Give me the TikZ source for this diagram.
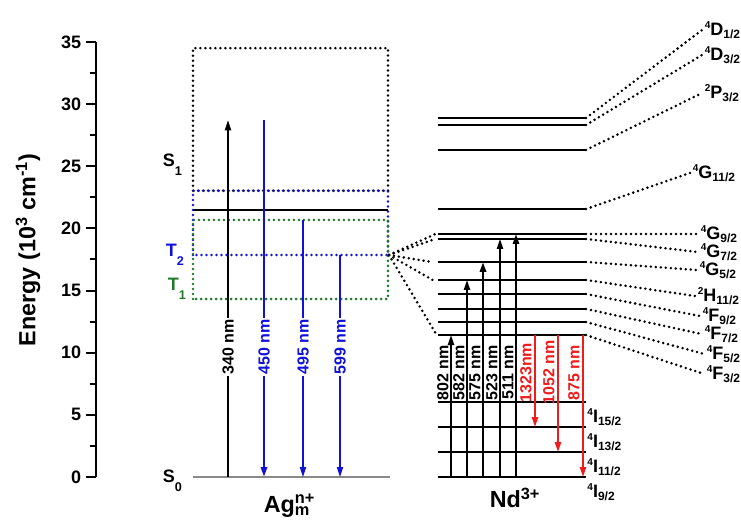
\documentclass[tikz,border=0pt]{standalone}
\usepackage{fontspec}
\setsansfont{Liberation Sans}
\usetikzlibrary{arrows.meta}
\definecolor{cblue}{HTML}{1010D8}
\definecolor{cgreen}{HTML}{23782A}
\definecolor{cred}{HTML}{EE1C1C}
\definecolor{cgrey}{HTML}{8A8A8A}
\newcommand\fsz[1]{\fontsize{#1}{#1}\selectfont\sffamily\bfseries}
\newcommand\tsup[1]{\raisebox{0.4em}{\fsz{7.5}#1}}
\newcommand\tsub[1]{\raisebox{-0.18em}{\fsz{9}#1}}
\newcommand\ssub[1]{\raisebox{-0.5em}{\fsz{9.5}#1}}
\tikzset{
  every picture/.style={font=\fsz{13.5}, line width=1.2pt},
  dots/.style={line width=2.1pt, line cap=round, dash pattern=on 0pt off 3.75pt},
  uparrow/.style={-{Triangle[length=7.5pt, width=4.6pt]}, line width=1.4pt},
  tickl/.style={anchor=east, font=\fsz{13.5}, inner sep=0pt},
  state/.style={anchor=base west, font=\fsz{13.5}, inner sep=0pt},
  wl/.style={rotate=90, font=\fsz{12}, inner sep=1.2pt},
  term/.style={anchor=base west, font=\fsz{13.5}, inner sep=0pt, xshift=1.5pt, yshift=-4pt},
  species/.style={anchor=base, font=\fsz{17.5}, inner sep=0pt},
}

\begin{document}
\begin{tikzpicture}[x=0.75pt, y=9.3225pt]
  \useasboundingbox (0,-3.54) rectangle (741,38.375);
  % energy axis
  \coordinate (ax0) at (96,0);
  \coordinate (ax35) at (96,35);
  \draw[line width=1.5pt] (ax0) -- (ax35);
  \foreach \v in {0,5,...,35} {
    \draw[line width=1.5pt] (86,\v) -- (96,\v);
    \node[tickl] (tick\v) at (82,\v) {\v};
  }
  \foreach \v in {2.5,7.5,...,32.5}
    \draw[line width=1.5pt] (89.5,\v) -- (96,\v);
  \node[rotate=90, font=\fsz{17.5}] (ylab) at (28,18.26) {Energy (10\textsuperscript{3} cm\textsuperscript{-1})};

  % Ag cluster states
  \draw[dots] (193,23.03) rectangle (388,34.5);
  \draw[dots, cblue] (193,17.86) rectangle (388,23.03);
  \draw[dots, cgreen] (193,14.32) rectangle (388,20.68);
  \coordinate (s1L) at (193,21.5);
  \coordinate (s1R) at (388,21.5);
  \draw[line width=1.6pt] (s1L) -- (s1R);
  \coordinate (s0L) at (193,0);
  \coordinate (s0R) at (390,0);
  \draw[cgrey, line width=1.5pt] (s0L) -- (s0R);
  \node[state] (S1) at (162,24.94) {S\ssub{1}};
  \node[state, text=cblue] (T2) at (165,17.7) {T\ssub{2}};
  \node[state, text=cgreen] (T1) at (167,15.0) {T\ssub{1}};
  \node[state] (S0) at (162,-0.48) {S\ssub{0}};

  \coordinate (ex0) at (228,0);
  \coordinate (ex1) at (228,28.7);
  \draw[uparrow, line width=1.1pt] (ex0) -- (ex1);
  \node[wl, fill=white] (wl340) at (228,10.46) {340 nm};
  \foreach \x/\top/\lab/\w in {264/28.7/450/1.9pt, 303/20.68/495/1.1pt, 340/17.86/599/1.1pt} {
    \coordinate (em\lab a) at (\x,\top);
    \coordinate (em\lab b) at (\x,0);
    \draw[uparrow, cblue, line width=\w] (em\lab a) -- (em\lab b);
    \node[wl, fill=white, text=cblue] (wl\lab) at (\x,10.46) {\lab{} nm};
  }
  \node[species] (ag) at (287,-2.82) {Ag\rlap{\textsuperscript{n+}}\textsubscript{m}};

  % Nd levels
  \foreach \e/\w [count=\i] in {28.88/1.2pt, 28.32/1.7pt, 26.31/1.1pt, 21.56/1.8pt,
      19.55/1.8pt, 19.15/1.8pt, 17.30/1.1pt, 15.85/1.8pt, 14.72/1.1pt, 13.52/1.5pt,
      12.47/1.6pt, 11.42/1.6pt, 6.03/1.0pt, 4.02/1.7pt, 2.01/1.1pt, 0/1.7pt} {
    \coordinate (ndL\i) at (438,\e);
    \coordinate (ndR\i) at (586,\e);
    \draw[line width=\w] (ndL\i) -- (ndR\i);
  }
  \foreach \i/\x/\e/\lab in {
      1/702/35.96/{\tsup{4}D\tsub{1/2}},
      2/702/33.95/{\tsup{4}D\tsub{3/2}},
      3/702/30.89/{\tsup{2}P\tsub{3/2}},
      4/690/24.46/{\tsup{4}G\tsub{11/2}},
      5/698/19.55/{\tsup{4}G\tsub{9/2}},
      6/698/18.10/{\tsup{4}G\tsub{7/2}},
      7/697/16.65/{\tsup{4}G\tsub{5/2}},
      8/695/14.56/{\tsup{2}H\tsub{11/2}},
      9/700/12.95/{\tsup{4}F\tsub{9/2}},
      10/702/11.50/{\tsup{4}F\tsub{7/2}},
      11/704/9.90/{\tsup{4}F\tsub{5/2}},
      12/704/8.29/{\tsup{4}F\tsub{3/2}}} {
    \coordinate (tm\i) at (\x,\e);
    \draw[dots] (ndR\i) -- (tm\i);
    \node[term] (lab\i) at (tm\i) {\lab};
  }
  \foreach \i/\lab in {13/{15/2}, 14/{13/2}, 15/{11/2}, 16/{9/2}}
    \node[term, xshift=-1pt, yshift=-11.3pt] (lab\i) at (ndR\i) {\tsup{4}I\tsub{\lab}};

  % energy transfer from Ag to Nd
  \coordinate (fan) at (389,17.86);
  \foreach \i/\s in {5/2, 6/2, 7/5, 8/4, 12/1} {
    \coordinate (fe\i) at ([xshift=-\s pt]ndL\i);
    \draw[dots] (fan) -- (fe\i);
  }

  % Nd excitation and emission
  \foreach \x/\i/\lab/\w in {451/12/802/1.4pt, 467/8/582/1.4pt, 483/7/575/2.0pt, 500/6/523/1.4pt, 516/5/511/1.6pt} {
    \coordinate (ab\lab) at (\x,0);
    \coordinate (at\lab) at (ab\lab |- ndL\i);
    \draw[uparrow, line width=\w] (ab\lab) -- (at\lab);
    \node[wl, anchor=south] (wl\lab) at (\x,8.4) {\lab{} nm};
  }
  \foreach \x/\j/\lab/\txt in {535/14/1323/1323nm, 558/15/1052/1052 nm, 583/16/875/875 nm} {
    \coordinate (rt\lab) at (\x,11.42);
    \coordinate (rb\lab) at (rt\lab |- ndL\j);
    \draw[uparrow, cred, line width=1.5pt] (rt\lab) -- (rb\lab);
    \node[wl, anchor=south, text=cred, inner sep=2pt] (wl\lab) at (\x,8.4) {\txt};
  }
  \node[species] (nd) at (515,-2.49) {Nd\textsuperscript{3+}};
\end{tikzpicture}
\end{document}
